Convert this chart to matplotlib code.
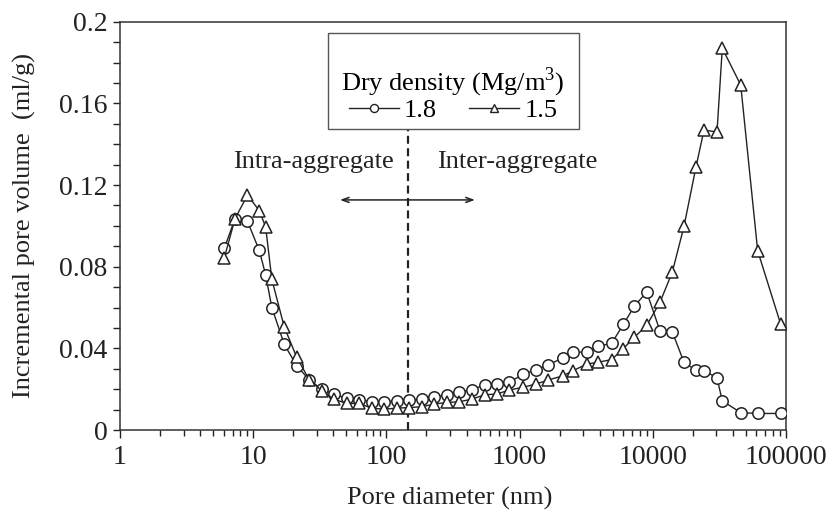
import matplotlib
matplotlib.use("Agg")
import matplotlib.pyplot as plt
from matplotlib.lines import Line2D
from matplotlib.patches import Rectangle
from matplotlib.ticker import LogLocator, FixedLocator, FuncFormatter, MultipleLocator

# ---- data -------------------------------------------------------------
pore_diameter_nm = [6.07, 7.3, 9.06, 11.1, 12.4, 13.8, 17.1, 21.2, 26.4, 32.7,
                    40.4, 50.4, 62.3, 77.6, 95.9, 119.5, 148.6, 184, 228, 284,
                    351, 437, 550, 673, 837, 1055, 1327, 1642, 2107, 2531,
                    3191, 3899, 4913, 6008, 7263, 8997, 11330, 14000, 17140, 21090,
                    24220, 30340, 33240, 45710, 61280, 91240]

vol_18 = [0.089, 0.1035, 0.1022, 0.088, 0.076, 0.060, 0.042, 0.0315, 0.0245, 0.020,
          0.0175, 0.0155, 0.0148, 0.0138, 0.0138, 0.0143, 0.0147, 0.0151, 0.016, 0.0173,
          0.0184, 0.0198, 0.0221, 0.0226, 0.0234, 0.0272, 0.0295, 0.032, 0.0352, 0.0382,
          0.0381, 0.041, 0.0425, 0.0517, 0.0606, 0.0676, 0.0485, 0.0481, 0.0332, 0.0292,
          0.0291, 0.0255, 0.0143, 0.0085, 0.0081, 0.0081]

vol_15 = [0.0843, 0.1035, 0.115, 0.1075, 0.0995, 0.0738, 0.0505, 0.0357, 0.0245, 0.0193,
          0.0151, 0.013, 0.013, 0.0107, 0.0102, 0.0107, 0.011, 0.0114, 0.0127, 0.0135,
          0.0138, 0.0151, 0.0173, 0.0176, 0.0196, 0.0209, 0.0225, 0.0245, 0.0265, 0.0291,
          0.0323, 0.0332, 0.0345, 0.0399, 0.0454, 0.0512, 0.0626, 0.0773, 0.0997, 0.1288,
          0.1469, 0.146, 0.187, 0.169, 0.0878, 0.0518]

series_labels = ["1.8", "1.5"]
x_tick_values = [1, 10, 100, 1000, 10000, 100000]
y_tick_values = [0, 0.04, 0.08, 0.12, 0.16, 0.2]
y_tick_labels = ["0", "0.04", "0.08", "0.12", "0.16", "0.2"]
boundary_nm = 145

# ---- style ------------------------------------------------------------
plt.rcParams["font.family"] = ["Liberation Serif", "DejaVu Serif"]
plt.rcParams["mathtext.fontset"] = "custom"
plt.rcParams["mathtext.rm"] = "Liberation Serif"
FS = 19
FS_TICK = 20
INK = "#222222"

W, H = 834, 522
fig = plt.figure(figsize=(W/100, H/100), dpi=100)
ax = fig.add_axes([120/W, 1-430/H, (786-120)/W, (430-21.7)/H])

ax.plot(pore_diameter_nm, vol_18, color=INK, lw=1.0, marker="o", ms=8.2,
        mfc="white", mec=INK, mew=1.1, zorder=3)
ax.plot(pore_diameter_nm, vol_15, color=INK, lw=1.0, marker="^", ms=8.8,
        mfc="white", mec=INK, mew=1.1, zorder=3)

ax.set_xscale("log")
ax.set_xlim(1, 100000)
ax.set_ylim(0, 0.2)

ax.xaxis.set_major_locator(FixedLocator(x_tick_values))
ax.xaxis.set_major_formatter(FuncFormatter(lambda v, p: "%d" % round(v)))
ax.xaxis.set_minor_locator(LogLocator(base=10, subs=range(2, 10), numticks=20))
ax.xaxis.set_minor_formatter(FuncFormatter(lambda v, p: ""))
ax.yaxis.set_major_locator(FixedLocator(y_tick_values))
ax.set_yticklabels(y_tick_labels)
ax.yaxis.set_minor_locator(MultipleLocator(0.01))

ax.tick_params(which="both", direction="out", colors=INK, labelsize=FS_TICK,
               labelcolor=INK, width=1.0, top=False, right=False)
ax.tick_params(axis="y", which="major", length=5, pad=4)
ax.tick_params(axis="y", which="minor", length=5)
ax.tick_params(axis="x", which="major", length=6, pad=5)
ax.tick_params(axis="x", which="minor", length=4)

for s in ax.spines.values():
    s.set_linewidth(1.1)
    s.set_color("#333333")

ax.set_xlabel("Pore diameter (nm)", fontsize=FS, color=INK, va="center")
ax.set_ylabel("Incremental pore volume  (ml/g)", fontsize=FS, color=INK, va="center")
ax.xaxis.set_label_coords((450-120)/666, (430-498)/408.3)
ax.yaxis.set_label_coords((24-120)/666, 0.5)

# boundary line
ax.vlines(boundary_nm, 0, 0.1475, colors=INK, linestyles=(0, (3.6, 2.0)), lw=1.6, zorder=2)

# arrow & labels
ax.annotate("", xy=(44.8, 0.1127), xytext=(462, 0.1127),
            arrowprops=dict(arrowstyle="<->,head_length=0.5,head_width=0.18",
                            color=INK, lw=1.1, shrinkA=0, shrinkB=0))
ax.text(114, 0.1315, "Intra-aggregate", ha="right", va="center", fontsize=FS, color=INK)
ax.text(240, 0.1315, "Inter-aggregate", ha="left", va="center", fontsize=FS, color=INK)

# legend box
box = Rectangle((328/W, 1-129/H), (579-328)/W, (129-33.3)/H,
                transform=fig.transFigure, fill=True, facecolor="white",
                edgecolor="#555555", lw=1.0, zorder=5, clip_on=False)
ax.add_patch(box)
handles = [Line2D([], [], color=INK, lw=1.0, marker="o", ms=5.8, mfc="white", mec=INK, mew=1.0),
           Line2D([], [], color=INK, lw=1.0, marker="^", ms=6.0, mfc="white", mec=INK, mew=1.0)]
leg = ax.legend(handles, series_labels, ncol=2, title="Dry density (Mg/m$^3$)",
                loc="center", bbox_to_anchor=(453/W, 1-94/H),
                bbox_transform=fig.transFigure, borderaxespad=0,
                fontsize=FS, title_fontsize=FS, frameon=False,
                handlelength=1.9, handletextpad=0.2, columnspacing=1.2,
                borderpad=0, labelspacing=0.2)
leg._legend_box.sep = 0
leg.set_zorder(7)

fig.savefig("out.png", dpi=100)
